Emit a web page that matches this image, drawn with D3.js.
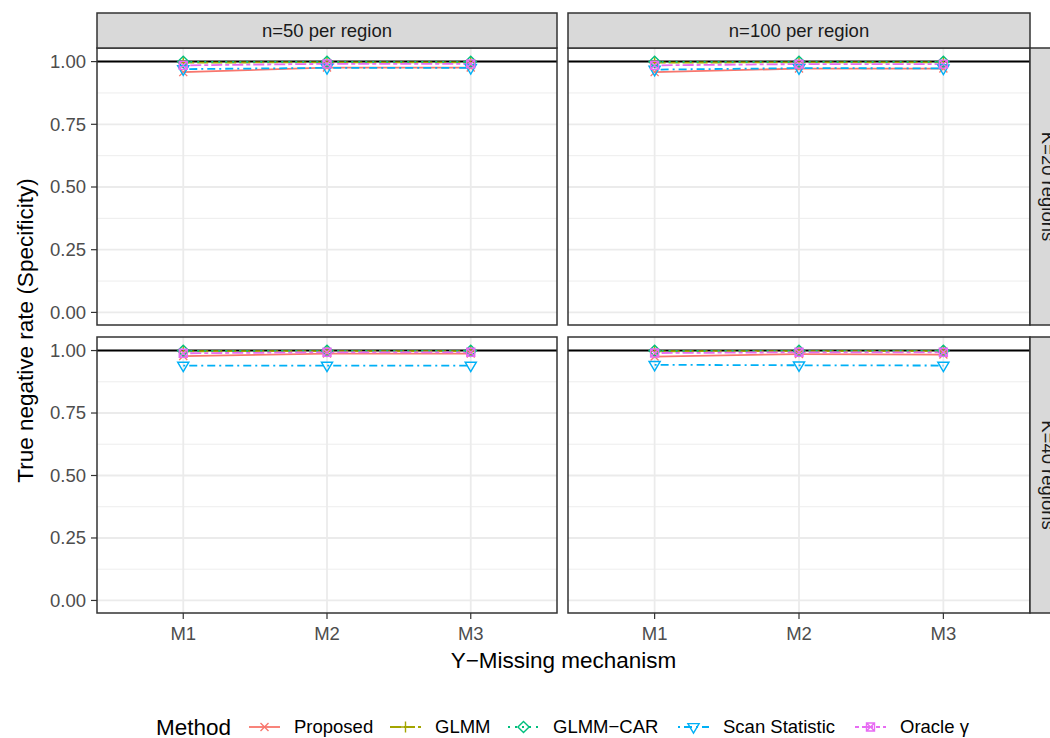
<!DOCTYPE html>
<html>
<head>
<meta charset="utf-8">
<script src="https://cdn.jsdelivr.net/npm/d3@7"></script>
<style>
  body { margin: 0; background: #fff; }
  svg { font-family: "Liberation Sans", Arial, sans-serif; }
</style>
</head>
<body>
<div id="chart"></div>
<script>
// facet layout: columns = n per region, rows = K regions
const colLabels = ["n=50 per region", "n=100 per region"];
const rowLabels = ["K=20 regions", "K=40 regions"];
const mechanisms = ["M1", "M2", "M3"];
const methods = ["Proposed", "GLMM", "GLMM\u2212CAR", "Scan Statistic", "Oracle \u03b3"];
const yTicks = [0, 0.25, 0.5, 0.75, 1];

// values per panel [row][col], per method, per mechanism
const proposed = [
  [[0.958, 0.976, 0.976], [0.958, 0.972, 0.972]],
  [[0.978, 0.988, 0.988], [0.976, 0.986, 0.984]]
];
const glmm = [
  [[0.996, 0.997, 0.997], [0.996, 0.997, 0.997]],
  [[0.997, 0.998, 0.998], [0.997, 0.998, 0.998]]
];
const glmmCar = [
  [[0.999, 0.999, 0.999], [0.999, 0.999, 0.999]],
  [[0.999, 0.999, 0.999], [0.999, 0.999, 0.999]]
];
const scanStat = [
  [[0.970, 0.975, 0.975], [0.968, 0.974, 0.973]],
  [[0.940, 0.940, 0.940], [0.943, 0.941, 0.940]]
];
const oracle = [
  [[0.985, 0.991, 0.991], [0.985, 0.990, 0.990]],
  [[0.989, 0.993, 0.993], [0.990, 0.993, 0.993]]
];
const seriesValues = [proposed, glmm, glmmCar, scanStat, oracle];

const colors = ["#F8766D", "#A3A500", "#00BF7D", "#00B0F6", "#E76BF3"];
const dashes = [null, "11,3", "2,5", "2,4,8,4", "4,3,11,3"];
const shapes = ["cross", "plus", "diamond", "triDown", "squareX"];

const W = 1050, H = 738;
const panelX = [[97, 557], [568, 1030]];
const panelY = [[48, 325], [337, 613]];
const stripTop = 13;
const stripRight = 1066;

const svg = d3.select("#chart").append("svg")
  .attr("width", W).attr("height", H);

const col20 = "#333333";
const gridCol = "#EBEBEB";
const smallFont = 18.5;
const titleFont = 22.5;

function drawShape(g, type, cx, cy, color, s) {
  const sw = 1.4;
  if (type === "cross") {
    g.append("path").attr("d", `M${cx - s},${cy - s}L${cx + s},${cy + s}M${cx - s},${cy + s}L${cx + s},${cy - s}`)
      .attr("stroke", color).attr("stroke-width", sw).attr("fill", "none");
  } else if (type === "plus") {
    const r = s * 1.35;
    g.append("path").attr("d", `M${cx - r},${cy}L${cx + r},${cy}M${cx},${cy - r}L${cx},${cy + r}`)
      .attr("stroke", color).attr("stroke-width", sw).attr("fill", "none");
  } else if (type === "diamond") {
    const r = s * 1.4;
    g.append("path").attr("d", `M${cx},${cy - r}L${cx + r},${cy}L${cx},${cy + r}L${cx - r},${cy}Z`)
      .attr("stroke", color).attr("stroke-width", sw).attr("fill", "none");
  } else if (type === "triDown") {
    const r = s * 1.4;
    g.append("path").attr("d", `M${cx - r},${cy - r * 0.6}L${cx + r},${cy - r * 0.6}L${cx},${cy + r * 1.1}Z`)
      .attr("stroke", color).attr("stroke-width", sw).attr("fill", "none");
  } else if (type === "squareX") {
    g.append("path").attr("d", `M${cx - s},${cy - s}H${cx + s}V${cy + s}H${cx - s}Z M${cx - s},${cy - s}L${cx + s},${cy + s}M${cx - s},${cy + s}L${cx + s},${cy - s}`)
      .attr("stroke", color).attr("stroke-width", sw).attr("fill", "none");
  }
}

rowLabels.forEach((rl, ri) => {
  colLabels.forEach((cl, ci) => {
    const [x0, x1] = panelX[ci];
    const [y0, y1] = panelY[ri];
    // discrete axis with 0.6 expansion on each side
    const x = d3.scalePoint().domain(mechanisms).range([x0, x1]).padding(0.6);
    // continuous axis: limits 0..1 with 5% expansion
    const y = d3.scaleLinear().domain([-0.05 * 1.004, 1.004 * 1.05]).range([y1, y0]);

    const g = svg.append("g");
    g.append("rect").attr("x", x0).attr("y", y0).attr("width", x1 - x0).attr("height", y1 - y0).attr("fill", "#fff");

    // minor grid
    const minor = [0.125, 0.375, 0.625, 0.875];
    g.selectAll(".minor").data(minor).join("line")
      .attr("x1", x0).attr("x2", x1).attr("y1", d => y(d)).attr("y2", d => y(d))
      .attr("stroke", gridCol).attr("stroke-width", 0.9);
    // major grid
    g.selectAll(".majorY").data(yTicks).join("line")
      .attr("x1", x0).attr("x2", x1).attr("y1", d => y(d)).attr("y2", d => y(d))
      .attr("stroke", gridCol).attr("stroke-width", 1.8);
    g.selectAll(".majorX").data(mechanisms).join("line")
      .attr("x1", d => x(d)).attr("x2", d => x(d)).attr("y1", y0).attr("y2", y1)
      .attr("stroke", gridCol).attr("stroke-width", 1.8);

    // reference line at 1
    g.append("line").attr("x1", x0).attr("x2", x1).attr("y1", y(1)).attr("y2", y(1))
      .attr("stroke", "#000").attr("stroke-width", 2);

    // series lines
    seriesValues.forEach((sv, mi) => {
      const vals = sv[ri][ci];
      const line = d3.line().x((d, i) => x(mechanisms[i])).y(d => y(d));
      g.append("path").attr("d", line(vals))
        .attr("fill", "none").attr("stroke", colors[mi]).attr("stroke-width", 1.8)
        .attr("stroke-dasharray", dashes[mi]);
    });
    seriesValues.forEach((sv, mi) => {
      sv[ri][ci].forEach((v, i) => drawShape(g, shapes[mi], x(mechanisms[i]), y(v), colors[mi], 4));
    });

    // border
    g.append("rect").attr("x", x0).attr("y", y0).attr("width", x1 - x0).attr("height", y1 - y0)
      .attr("fill", "none").attr("stroke", col20).attr("stroke-width", 1.5);

    // y axis on left column
    if (ci === 0) {
      const ya = g.append("g");
      yTicks.forEach(t => {
        ya.append("line").attr("x1", x0 - 6).attr("x2", x0).attr("y1", y(t)).attr("y2", y(t))
          .attr("stroke", col20).attr("stroke-width", 1.2);
        ya.append("text").attr("x", x0 - 11).attr("y", y(t)).attr("dy", "0.35em")
          .attr("text-anchor", "end").attr("font-size", smallFont).attr("fill", "#4D4D4D")
          .text(d3.format(".2f")(t));
      });
    }
    // x axis on bottom row
    if (ri === rowLabels.length - 1) {
      mechanisms.forEach(m => {
        g.append("line").attr("x1", x(m)).attr("x2", x(m)).attr("y1", y1).attr("y2", y1 + 6)
          .attr("stroke", col20).attr("stroke-width", 1.2);
        g.append("text").attr("x", x(m)).attr("y", y1 + 27)
          .attr("text-anchor", "middle").attr("font-size", smallFont).attr("fill", "#4D4D4D").text(m);
      });
    }
  });
});

// column strips
colLabels.forEach((cl, ci) => {
  const [x0, x1] = panelX[ci];
  svg.append("rect").attr("x", x0).attr("y", stripTop).attr("width", x1 - x0).attr("height", panelY[0][0] - stripTop)
    .attr("fill", "#D9D9D9").attr("stroke", col20).attr("stroke-width", 1.5);
  svg.append("text").attr("x", (x0 + x1) / 2).attr("y", (stripTop + panelY[0][0]) / 2).attr("dy", "0.35em")
    .attr("text-anchor", "middle").attr("font-size", smallFont).attr("fill", "#1A1A1A").text(cl);
});
// row strips
rowLabels.forEach((rl, ri) => {
  const [y0, y1] = panelY[ri];
  const x0 = panelX[1][1];
  svg.append("rect").attr("x", x0).attr("y", y0).attr("width", stripRight - x0).attr("height", y1 - y0)
    .attr("fill", "#D9D9D9").attr("stroke", col20).attr("stroke-width", 1.5);
  const cx = (x0 + stripRight) / 2, cy = (y0 + y1) / 2;
  svg.append("text").attr("transform", `translate(${cx},${cy}) rotate(90)`).attr("dy", "0.35em")
    .attr("text-anchor", "middle").attr("font-size", smallFont).attr("fill", "#1A1A1A").text(rl);
});

// axis titles
svg.append("text").attr("transform", `translate(33,${(panelY[0][0] + panelY[1][1]) / 2}) rotate(-90)`)
  .attr("text-anchor", "middle").attr("font-size", titleFont).attr("fill", "#000")
  .text("True negative rate (Specificity)");
svg.append("text").attr("x", (panelX[0][0] + panelX[1][1]) / 2).attr("y", 668)
  .attr("text-anchor", "middle").attr("font-size", titleFont).attr("fill", "#000")
  .text("Y\u2212Missing mechanism");

// legend
const legY = 727;
const leg = svg.append("g");
leg.append("text").attr("x", 156).attr("y", legY).attr("dy", "0.35em")
  .attr("font-size", titleFont).attr("fill", "#000").text("Method");
const keyX = [249, 390, 508, 678, 855];
methods.forEach((m, i) => {
  const kx = keyX[i];
  leg.append("line").attr("x1", kx).attr("x2", kx + 31).attr("y1", legY).attr("y2", legY)
    .attr("stroke", colors[i]).attr("stroke-width", 1.8).attr("stroke-dasharray", dashes[i]);
  drawShape(leg, shapes[i], kx + 15.5, legY, colors[i], 4);
  leg.append("text").attr("x", kx + 45).attr("y", legY).attr("dy", "0.35em")
    .attr("font-size", smallFont).attr("fill", "#000").text(m);
});
</script>
</body>
</html>
